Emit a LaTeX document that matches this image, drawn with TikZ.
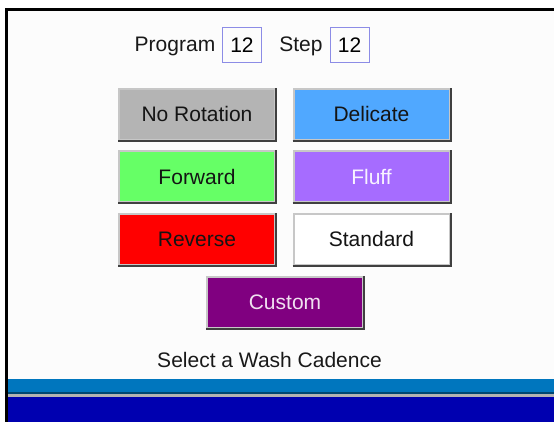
\documentclass[tikz,border=0pt]{standalone}
\usepackage{fontspec}
\setmainfont{Liberation Sans}
\usetikzlibrary{positioning}
\definecolor{panelbg}{RGB}{252,252,252}
\definecolor{greybtn}{RGB}{180,180,180}
\definecolor{delicateblue}{RGB}{80,168,255}
\definecolor{fwdgreen}{RGB}{102,255,102}
\definecolor{fluffpurple}{RGB}{166,108,255}
\definecolor{custompurple}{RGB}{128,0,128}
\definecolor{barblue}{RGB}{0,118,190}
\definecolor{bardark}{RGB}{0,0,176}
\definecolor{boxedge}{RGB}{140,140,230}
\tikzset{>=stealth}

\begin{document}
\begin{tikzpicture}[x=1pt, y=-1pt,
    font=\fontsize{21}{25}\selectfont,
    button/.style={draw=black!22, line width=2pt, minimum width=156pt, minimum height=51pt, inner sep=0pt, text=black!92},
    numbox/.style={draw=boxedge, line width=1pt, minimum width=39pt, minimum height=35pt, inner sep=0pt}]
    \useasboundingbox (0,0) rectangle (554,421);
    % screen frame (filled a little past the edge)
    \fill[white] (-4,-4) rectangle (560,428);
    \fill[panelbg] (6,9) rectangle (560,428);
    \fill[black] (5,8) rectangle (8,428);
    \fill[black] (5,8) rectangle (560,11);
    % header
    \node[text=black!90] (prog) at (175,46) {Program};
    \node[numbox] (progval) at (242,45) {12};
    \node[text=black!90] (step) at (301,46) {Step};
    \node[numbox] (stepval) at (349.5,45) {12};
    % cadence buttons
    \node[button, fill=greybtn] (norot) at (197,114) {No Rotation};
    \node[button, fill=delicateblue] (delicate) at (371.5,114) {Delicate};
    \node[button, fill=fwdgreen] (forward) at (197,176.5) {Forward};
    \node[button, fill=fluffpurple, text=white!92!fluffpurple] (fluff) at (371.5,176.5) {Fluff};
    \node[button, fill=red] (reverse) at (197,239) {Reverse};
    \node[button, fill=white] (standard) at (371.5,239) {Standard};
    \node[button, fill=custompurple, text=white!88!custompurple] (custom) at (285,302) {Custom};
    \foreach \b in {norot, delicate, forward, fluff, reverse, standard, custom}
        \draw[black!75, line width=2pt] (\b.south west) -- (\b.south east) -- (\b.north east);
    \node[text=black!90] (prompt) at (269.5,360) {Select a Wash Cadence};
    % status bars
    \fill[barblue] (8,379) rectangle (560,393);
    \fill[barblue!60!black] (8,392) rectangle (560,393.5);
    \fill[black!30] (8,393.5) rectangle (560,397);
    \fill[bardark] (8,397) rectangle (560,428);
\end{tikzpicture}
\end{document}
